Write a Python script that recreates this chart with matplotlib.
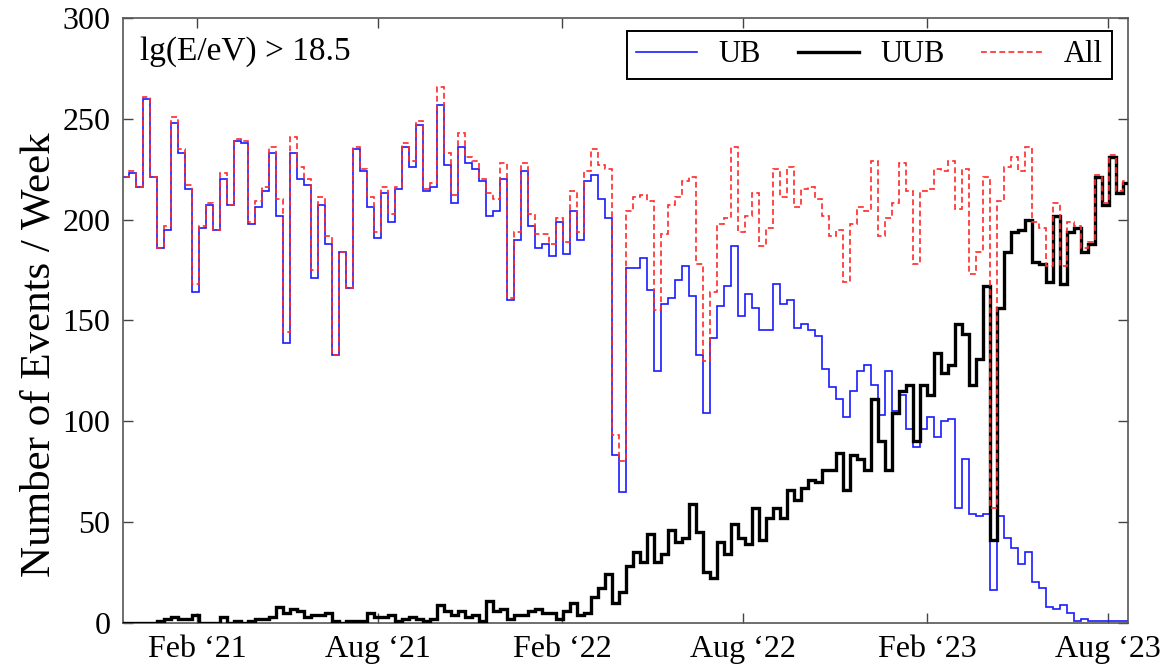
import datetime as dt
import numpy as np
import matplotlib.pyplot as plt
import matplotlib.dates as mdates

# weekly event counts, lg(E/eV) > 18.5
ub = [221, 223, 216, 260, 221, 186, 195, 248, 233, 215, 164, 196, 207, 195, 220, 207,
      239, 238, 198, 206, 214, 233, 202, 139, 233, 220, 217, 171, 207, 188, 133, 184,
      166, 235, 224, 206, 191, 213, 199, 215, 236, 226, 247, 214, 216, 257, 227, 208,
      236, 228, 225, 219, 202, 204, 220, 160, 190, 224, 197, 186, 188, 182, 199, 183,
      204, 190, 219, 222, 210, 201, 83, 65, 176, 176, 181, 165, 125, 158, 161, 170,
      177, 162, 133, 104, 141, 157, 167, 187, 152, 163, 156, 145, 145, 168, 158, 160,
      146, 148, 145, 142, 126, 117, 111, 102, 115, 125, 128, 118, 103, 125, 105, 113,
      96, 87, 96, 102, 92, 100, 101, 57, 81, 54, 53, 54, 16, 53, 42, 37,
      29, 35, 20, 17, 8, 7, 9, 5, 1, 2, 1, 1, 1, 1, 1, 1]

uub = [0, 0, 0, 0, 0, 1, 2, 3, 2, 2, 4, 0, 0, 0, 3, 0,
       1, 0, 1, 2, 2, 3, 8, 5, 7, 6, 3, 4, 4, 5, 1, 0,
       1, 1, 1, 5, 3, 3, 4, 1, 2, 3, 2, 1, 2, 9, 6, 4,
       6, 3, 4, 1, 11, 6, 7, 2, 4, 4, 6, 7, 5, 5, 2, 6,
       10, 4, 5, 13, 17, 24, 10, 15, 28, 35, 30, 44, 30, 34, 46, 40,
       42, 59, 45, 25, 22, 40, 34, 49, 42, 39, 57, 41, 52, 57, 52, 66,
       61, 67, 71, 70, 76, 76, 84, 66, 83, 81, 76, 111, 90, 76, 104, 115,
       118, 90, 118, 113, 134, 124, 128, 148, 143, 118, 131, 167, 41, 156, 184, 194,
       195, 200, 179, 178, 169, 202, 168, 194, 196, 184, 188, 221, 207, 231, 213, 218]

all_ev = [221, 224, 216, 261, 221, 186, 197, 251, 235, 217, 168, 197, 208, 195, 223, 207,
          240, 239, 199, 209, 216, 236, 210, 144, 241, 226, 220, 175, 211, 192, 133, 184,
          166, 236, 225, 211, 194, 216, 203, 216, 238, 229, 249, 215, 218, 266, 233, 212,
          243, 231, 229, 220, 213, 210, 228, 161, 194, 228, 203, 193, 193, 188, 201, 189,
          214, 194, 224, 235, 227, 225, 93, 80, 204, 211, 212, 209, 155, 193, 207, 211,
          219, 221, 178, 130, 164, 198, 201, 236, 194, 202, 213, 187, 196, 225, 211, 226,
          206, 215, 216, 210, 202, 192, 195, 169, 198, 206, 204, 229, 192, 201, 208, 228,
          214, 178, 214, 215, 225, 224, 229, 205, 225, 173, 184, 221, 57, 209, 226, 231,
          224, 236, 199, 196, 177, 208, 177, 199, 197, 186, 189, 222, 208, 232, 214, 219]

first_week = dt.date(2020, 11, 18)
tick_dates = [dt.date(2021, 2, 1), dt.date(2021, 8, 1), dt.date(2022, 2, 1),
              dt.date(2022, 8, 1), dt.date(2023, 2, 1), dt.date(2023, 8, 1)]
tick_labels = ["Feb \u201821", "Aug \u201821", "Feb \u201822",
               "Aug \u201822", "Feb \u201823", "Aug \u201823"]

plt.rcParams['font.family'] = ['Liberation Serif', 'DejaVu Serif']

edges = mdates.date2num([first_week + dt.timedelta(weeks=i) for i in range(len(ub) + 1)])

fig = plt.figure(figsize=(11.62, 6.68), dpi=100)
ax = fig.add_axes([0.1059, 0.0678, 0.8649, 0.9053])

ax.stairs(ub, edges, color='#1a1aff', lw=1.2, label='UB', zorder=2)
ax.stairs(uub, edges, color='black', lw=2.4, label='UUB', zorder=3)
ax.stairs(all_ev, edges, color='#ff2a2a', lw=1.2, ls=(0, (3.5, 2)), label='All', zorder=4)

ax.set_xlim(mdates.date2num(first_week + dt.timedelta(days=1)),
            mdates.date2num(dt.date(2023, 8, 21)))
ax.set_ylim(0, 300)
ax.set_yticks(np.arange(0, 301, 50))
ax.set_xticks(mdates.date2num(tick_dates))
ax.set_xticklabels(tick_labels)
ax.tick_params(direction='in', length=7, width=1, top=True, right=True,
               labelsize=23, pad=9, color='#444444')
for s in ax.spines.values():
    s.set_color('#555555')
    s.set_linewidth(1.2)

ax.set_ylabel('Number of Events / Week', fontsize=31)
ax.yaxis.set_label_coords(-0.064, 0.443)
ax.text(0.017, 0.944, 'lg(E/eV) > 18.5', transform=ax.transAxes,
        fontsize=24, va='center', ha='left')

leg = ax.legend(loc='upper right', bbox_to_anchor=(0.984, 0.978), ncol=3,
                fontsize=22, frameon=True, fancybox=False, framealpha=1,
                edgecolor='black', handlelength=2.0, columnspacing=1.2,
                borderpad=0.3, handletextpad=0.7, borderaxespad=0)
leg.get_frame().set_linewidth(1.4)

fig.savefig('out.png', dpi=100)
